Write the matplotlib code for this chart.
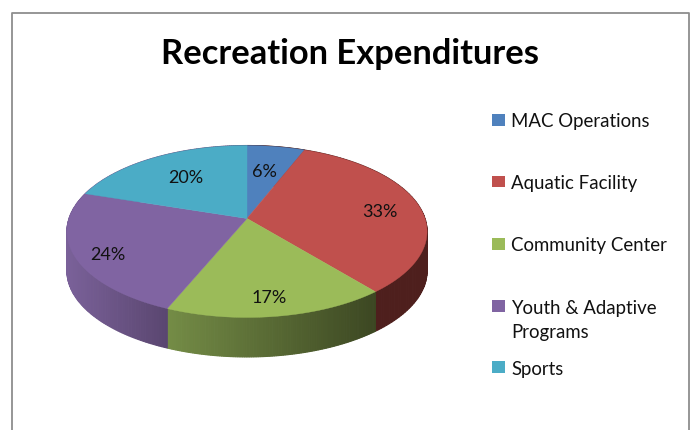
import numpy as np
import matplotlib
matplotlib.use('Agg')
import matplotlib.pyplot as plt
from matplotlib.patches import Rectangle
from matplotlib.colors import to_rgb

# data
labels = ['MAC Operations', 'Aquatic Facility', 'Community Center',
          'Youth & Adaptive\nPrograms', 'Sports']
size = [6, 33, 17.3, 23.7, 20]     # read from the slice edges, labels show them rounded
cores = ['#4F81BD', '#C0504D', '#9BBB59', '#8064A2', '#4BACC6']
# wall shade at left end and right end of each slice
wall_left = ['#4E1F1D', '#4E1F1D', '#748C46', '#7A6199', '#7A6199']
wall_right = ['#4E1F1D', '#4E1F1D', '#3C4722', '#5A4670', '#5A4670']
pct_pos = [(264, 172), (380, 212), (269, 298), (108, 255), (186, 178)]
leg_y = [122, 184, 246, 320.5, 370]
swatch_y = [114, 175.5, 238, 300, 361]

# look of the tilted disc, in pixels
cx, cy = 247, 218.5
a, b, k = 178, 84, 0.151
depth = 39.5


def project(ang):
    # angle clockwise from top -> screen position, with a bit of perspective
    u, v = np.sin(ang), np.cos(ang)
    w = 1 + k * v
    return cx + a * u / w, cy - b * v / w


plt.rcParams['font.family'] = ['Lato', 'DejaVu Sans']

fig = plt.figure(figsize=(6.95, 4.3), dpi=100)
ax = fig.add_axes([0, 0, 1, 1])
ax.set_xlim(0, 695)
ax.set_ylim(430, 0)
ax.axis('off')

# frame of the chart
ax.plot([11.5, 11.5, 688.5, 688.5], [430, 12.5, 12.5, 430], color='#8E8E8E', lw=1.3)

edges = np.cumsum([0] + size) / sum(size) * 2 * np.pi

# walls first, the top covers whatever is at the back
for i in range(len(size)):
    angs = np.linspace(edges[i], edges[i + 1], 100)
    x, y = project(angs)
    c0, c1 = np.array(to_rgb(wall_left[i])), np.array(to_rgb(wall_right[i]))
    xmin, xmax = x.min(), x.max()
    for j in range(len(angs) - 1):
        t = (0.5 * (x[j] + x[j + 1]) - xmin) / max(xmax - xmin, 1)
        col = c0 + (c1 - c0) * t
        ax.fill([x[j], x[j + 1], x[j + 1], x[j]],
                [y[j], y[j + 1], y[j + 1] + depth, y[j] + depth],
                facecolor=col, edgecolor=col, lw=0.8)

# top of the pie
for i in range(len(size)):
    angs = np.linspace(edges[i], edges[i + 1], 120)
    x, y = project(angs)
    ax.fill(np.r_[cx, x], np.r_[cy, y], color=cores[i], lw=0.3)

for s, (px, py) in zip(size, pct_pos):
    ax.text(px, py, '%d%%' % round(s), fontsize=13, color='#111111', ha='center', va='center')

ax.text(350, 54, 'Recreation Expenditures', fontsize=24.8, fontweight='bold',
        color='black', ha='center', va='center')

# legend
for lab, c, ly, sy in zip(labels, cores, leg_y, swatch_y):
    ax.add_patch(Rectangle((492, sy), 13, 11.5, color=c, lw=0))
    ax.text(511, ly, lab, fontsize=13.4, color='#111111', va='center', linespacing=1.55)

fig.savefig('out.png', dpi=100)
